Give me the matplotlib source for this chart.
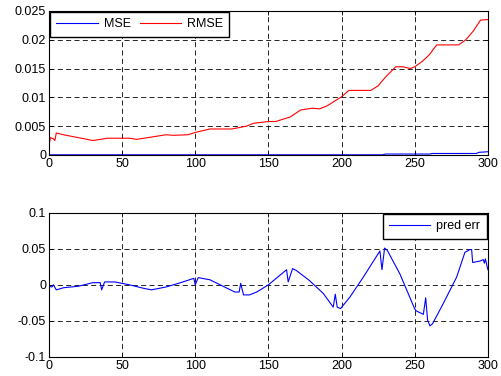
import matplotlib
matplotlib.use("Agg")
import matplotlib.pyplot as plt

plt.rcParams['font.family'] = ['Liberation Sans', 'DejaVu Sans']

# top panel: error curves
rmse_x = [0, 1, 3, 4, 5, 10, 20, 30, 40, 55, 60, 75, 80, 85, 95, 100, 110, 125, 135,
          140, 150, 155, 165, 172, 180, 185, 190, 200, 205, 220, 225, 230, 237, 242,
          247, 250, 255, 260, 265, 280, 285, 290, 295, 300]
rmse = [0.0017, 0.0030, 0.0028, 0.0025, 0.0038, 0.0035, 0.0030, 0.0025, 0.0029,
        0.0029, 0.0027, 0.0033, 0.0035, 0.0034, 0.0035, 0.0039, 0.0045, 0.0045, 0.0050,
        0.0055, 0.0058, 0.0058, 0.0066, 0.0078, 0.0081, 0.0080, 0.0085, 0.0101, 0.0112,
        0.0112, 0.0120, 0.0135, 0.0153, 0.0153, 0.0150, 0.0153, 0.0162, 0.0174, 0.0191,
        0.0191, 0.0200, 0.0215, 0.0234, 0.0235]
mse_x = [0, 228, 230, 260, 262, 292, 294, 300]
mse = [0.00002, 0.00002, 0.00015, 0.00015, 0.00025, 0.00025, 0.00045, 0.00055]

# bottom panel: prediction error
err_x = [0, 2, 3, 5, 10, 20, 30, 35, 36, 38, 45, 55, 65, 70, 80, 90, 99, 100, 102,
         110, 120, 127, 130, 131, 133, 137, 142, 150, 162.4, 163.5, 166.5, 169, 178,
         187.5, 194.3, 195.7, 197, 199.3, 205.7, 214.8, 226.2, 227.6, 229.4, 231.2,
         239.9, 249.9, 250.8, 255.9, 257.5, 258.8, 260.4, 262.2, 269.5, 278.6, 284.3,
         287.7, 288.9, 289.6, 294.6, 296.9, 297.6, 298.3, 300]
err = [-0.002, -0.003, 0.0, -0.007, -0.004, -0.002, 0.003, 0.003, -0.007, 0.004,
       0.004, 0.0, -0.005, -0.007, -0.003, 0.003, 0.009, 0.0, 0.010, 0.007, -0.003,
       -0.010, -0.010, 0.002, -0.014, -0.014, -0.010, 0.0, 0.021, 0.004, 0.0225,
       0.020, 0.006, -0.012, -0.031, -0.013, -0.031, -0.033, -0.017, 0.0105, 0.047,
       0.021, 0.051, 0.048, 0.015, -0.033, -0.036, -0.041, -0.018, -0.049, -0.057,
       -0.054, -0.026, 0.0105, 0.045, 0.049, 0.049, 0.031, 0.033, 0.035, 0.030,
       0.036, 0.021]

fig = plt.figure(figsize=(5.01, 3.76), dpi=100)
ax1 = fig.add_axes([0.0978, 0.588, 0.876, 0.383])
ax2 = fig.add_axes([0.0978, 0.051, 0.876, 0.383])

ax1.plot(mse_x, mse, color='#0000ff', lw=0.8, label='MSE')
ax1.plot(rmse_x, rmse, color='#ff0000', lw=0.8, label='RMSE')
ax1.set_ylim(0, 0.025)
ax1.set_yticks([0, 0.005, 0.01, 0.015, 0.02, 0.025])
ax1.set_yticklabels(['0', '0.005', '0.01', '0.015', '0.02', '0.025'])
ax1.legend(loc='upper left', ncol=2, fontsize=9, handlelength=3.3,
           fancybox=False, edgecolor='black', framealpha=1, borderaxespad=0.1,
           columnspacing=0.7, handletextpad=0.5, borderpad=0.5)

ax2.plot(err_x, err, color='#0000ff', lw=0.8, label='pred err')
ax2.set_ylim(-0.1, 0.1)
ax2.set_yticks([-0.1, -0.05, 0, 0.05, 0.1])
ax2.set_yticklabels(['-0.1', '-0.05', '0', '0.05', '0.1'])
ax2.legend(loc='upper right', fontsize=9, handlelength=3.3,
           fancybox=False, edgecolor='black', framealpha=1, borderaxespad=0.1,
           handletextpad=0.5, borderpad=0.5)

for ax in (ax1, ax2):
    ax.set_xlim(0, 300)
    ax.set_xticks(range(0, 301, 50))
    ax.grid(True, color='black', linestyle=(0, (6, 4)), lw=0.6)
    ax.tick_params(direction='in', length=3, width=0.6, top=True, right=True,
                   labelsize=9, pad=2)
    for s in ax.spines.values():
        s.set_linewidth(0.8)

fig.savefig('out.png', dpi=100)
